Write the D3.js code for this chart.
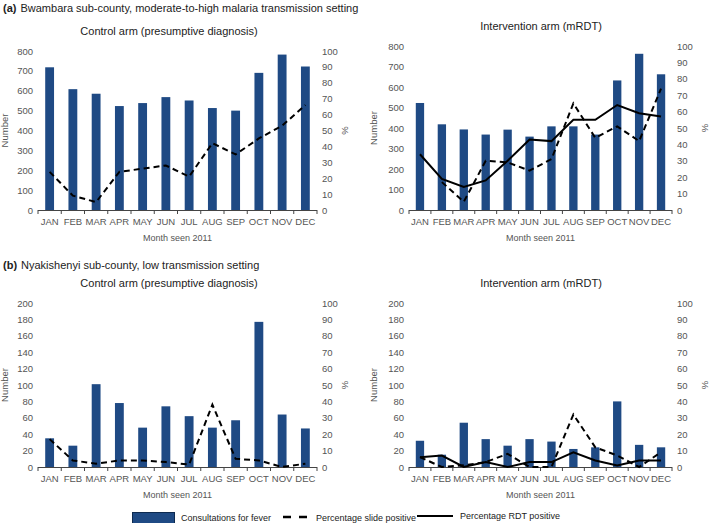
<!DOCTYPE html>
<html>
<head>
<meta charset="utf-8">
<script src="https://cdn.jsdelivr.net/npm/d3@7"></script>
<style>
  body { margin: 0; background: #fff; }
  svg { font-family: "Liberation Sans", Arial, sans-serif; }
  .tick text { fill: #555; font-size: 9.5px; }
</style>
</head>
<body>
<svg id="chart" width="709" height="523"></svg>
<script>
// months on every x axis
var months = ["JAN","FEB","MAR","APR","MAY","JUN","JUL","AUG","SEP","OCT","NOV","DEC"];

// (a) Bwambara - control arm
var aCtrlConsult = [718, 608, 585, 523, 538, 568, 551, 513, 500, 690, 782, 722];
var aCtrlSlide   = [24, 9, 5, 24, 26, 28, 21, 42, 35, 45, 53, 66];
// (a) Bwambara - intervention arm
var aIntConsult  = [522, 418, 393, 368, 392, 358, 408, 408, 368, 632, 762, 662];
var aIntSlide    = [null, 17, 5, 30, 29, 24, 31, 65, 44, 51, 42, 74];
var aIntRdt      = [34, 19, 14, 18, 30, 43, 42, 55, 55, 64, 59, 57];

// (b) Nyakishenyi - control arm
var bCtrlConsult = [35, 26, 101, 78, 48, 74, 62, 48, 57, 177, 64, 47];
var bCtrlSlide   = [17, 4, 2, 4, 4, 3, 1.5, 38, 5, 4, 0, 2];
// (b) Nyakishenyi - intervention arm
var bIntConsult  = [32, 15, 54, 34, 26, 34, 31, 22, 24, 80, 27, 24];
var bIntSlide    = [6, 0, 1, 3, 8, 0, 0, 32, 12, 7, 0, 9];
var bIntRdt      = [6, 7, 0, 3, 0, 3, 3, 9, 4, 1, 4, 4];

var leftTicksA = [0,100,200,300,400,500,600,700,800];
var leftTicksB = [0,20,40,60,80,100,120,140,160,180,200];
var pctTicks = [0,10,20,30,40,50,60,70,80,90,100];

var barColor = "#1f4a84";
var svg = d3.select("#chart");

function panel(opt) {
  var g = svg.append("g");
  var xb = d3.scaleBand().domain(months).range([opt.x0, opt.x1]);
  var y = d3.scaleLinear().domain([0, opt.ymax]).range([opt.yb, opt.yt]);
  var y2 = d3.scaleLinear().domain([0, 100]).range([opt.yb, opt.yt]);

  // bars
  g.selectAll("rect.bar").data(opt.consult).enter().append("rect")
    .attr("class", "bar")
    .attr("x", function(d, i) { return xb(months[i]) + xb.bandwidth() / 2 - xb.bandwidth() * 0.19; })
    .attr("width", xb.bandwidth() * 0.38)
    .attr("y", function(d) { return y(d); })
    .attr("height", function(d) { return y(0) - y(d); })
    .attr("fill", barColor);

  // left axis
  g.append("g").attr("transform", "translate(" + (opt.x0 - 5) + ",0)")
    .call(d3.axisLeft(y).tickValues(opt.yticks).tickSize(0).tickPadding(0))
    .call(function(s) { s.select(".domain").remove(); });

  // right axis
  g.append("g").attr("transform", "translate(" + (opt.x1 + 5) + ",0)")
    .call(d3.axisRight(y2).tickValues(pctTicks).tickSize(0).tickPadding(0))
    .call(function(s) { s.select(".domain").remove(); });

  // x axis line + boundary ticks
  g.append("line").attr("x1", opt.x0).attr("x2", opt.x1)
    .attr("y1", opt.yb + 0.5).attr("y2", opt.yb + 0.5)
    .attr("stroke", "#444").attr("stroke-width", 1);
  var bounds = months.map(function(m) { return xb(m); }).concat([opt.x1]);
  g.selectAll("line.bt").data(bounds).enter().append("line")
    .attr("x1", function(d) { return d; }).attr("x2", function(d) { return d; })
    .attr("y1", opt.yb).attr("y2", opt.yb + 4)
    .attr("stroke", "#444");
  g.append("g").attr("transform", "translate(0," + (opt.yb + 6) + ")")
    .call(d3.axisBottom(xb).tickSize(0).tickPadding(2))
    .call(function(s) { s.select(".domain").remove(); });

  // lines
  var line = function(sc) {
    return d3.line()
      .defined(function(d) { return d != null; })
      .x(function(d, i) { return xb(months[i]) + xb.bandwidth() / 2; })
      .y(function(d) { return sc(d); });
  };
  if (opt.rdt) {
    g.append("path").datum(opt.rdt).attr("d", line(y2))
      .attr("fill", "none").attr("stroke", "#000").attr("stroke-width", 2);
  }
  g.append("path").datum(opt.slide).attr("d", line(y2))
    .attr("fill", "none").attr("stroke", "#000").attr("stroke-width", 2)
    .attr("stroke-dasharray", "6,4");

  // titles
  g.append("text").attr("x", opt.tx).attr("y", opt.yt - 16)
    .attr("text-anchor", "middle").attr("font-size", 11).attr("fill", "#222")
    .text(opt.title);
  g.append("text").attr("x", (opt.x0 + opt.x1) / 2).attr("y", opt.yb + 31)
    .attr("text-anchor", "middle").attr("font-size", 9).attr("fill", "#555")
    .text("Month seen 2011");
  g.append("text")
    .attr("transform", "translate(" + opt.nx + "," + ((opt.yt + opt.yb) / 2) + ") rotate(-90)")
    .attr("text-anchor", "middle").attr("font-size", 9.5).attr("fill", "#555")
    .text("Number");
  g.append("text")
    .attr("transform", "translate(" + opt.px + "," + ((opt.yt + opt.yb) / 2) + ") rotate(-90)")
    .attr("text-anchor", "middle").attr("font-size", 9.5).attr("fill", "#555")
    .text("%");
}

panel({x0: 38, x1: 317, yt: 51, yb: 210, ymax: 800, yticks: leftTicksA,
  consult: aCtrlConsult, slide: aCtrlSlide, title: "Control arm (presumptive diagnosis)",
  tx: 169, nx: 8, px: 348});
panel({x0: 409, x1: 672, yt: 46, yb: 210, ymax: 800, yticks: leftTicksA,
  consult: aIntConsult, slide: aIntSlide, rdt: aIntRdt, title: "Intervention arm (mRDT)",
  tx: 541, nx: 377, px: 708});
panel({x0: 38, x1: 317, yt: 303, yb: 467, ymax: 200, yticks: leftTicksB,
  consult: bCtrlConsult, slide: bCtrlSlide, title: "Control arm (presumptive diagnosis)",
  tx: 169, nx: 8, px: 348});
panel({x0: 409, x1: 672, yt: 303, yb: 467, ymax: 200, yticks: leftTicksB,
  consult: bIntConsult, slide: bIntSlide, rdt: bIntRdt, title: "Intervention arm (mRDT)",
  tx: 541, nx: 377, px: 708});

// section headings
function heading(y, tag, txt) {
  var t = svg.append("text").attr("x", 3).attr("y", y).attr("font-size", 11).attr("fill", "#222");
  t.append("tspan").attr("font-weight", "bold").text(tag);
  t.append("tspan").attr("dx", 4).text(txt);
}
heading(12, "(a)", "Bwambara sub-county, moderate-to-high malaria transmission setting");
heading(269, "(b)", "Nyakishenyi sub-county, low transmission setting");

// legend
var lg = svg.append("g").attr("font-size", 9).attr("fill", "#222");
lg.append("rect").attr("x", 132.5).attr("y", 512.5).attr("width", 42).attr("height", 12)
  .attr("fill", barColor).attr("stroke", "#0d2a50");
lg.append("text").attr("x", 181).attr("y", 521).text("Consultations for fever");
lg.append("line").attr("x1", 283).attr("x2", 308).attr("y1", 517).attr("y2", 517)
  .attr("stroke", "#000").attr("stroke-width", 2.5).attr("stroke-dasharray", "8,8");
lg.append("text").attr("x", 316).attr("y", 521).text("Percentage slide positive");
lg.append("line").attr("x1", 417).attr("x2", 453).attr("y1", 516).attr("y2", 516)
  .attr("stroke", "#000").attr("stroke-width", 2);
lg.append("text").attr("x", 460).attr("y", 519).text("Percentage RDT positive");
</script>
</body>
</html>
